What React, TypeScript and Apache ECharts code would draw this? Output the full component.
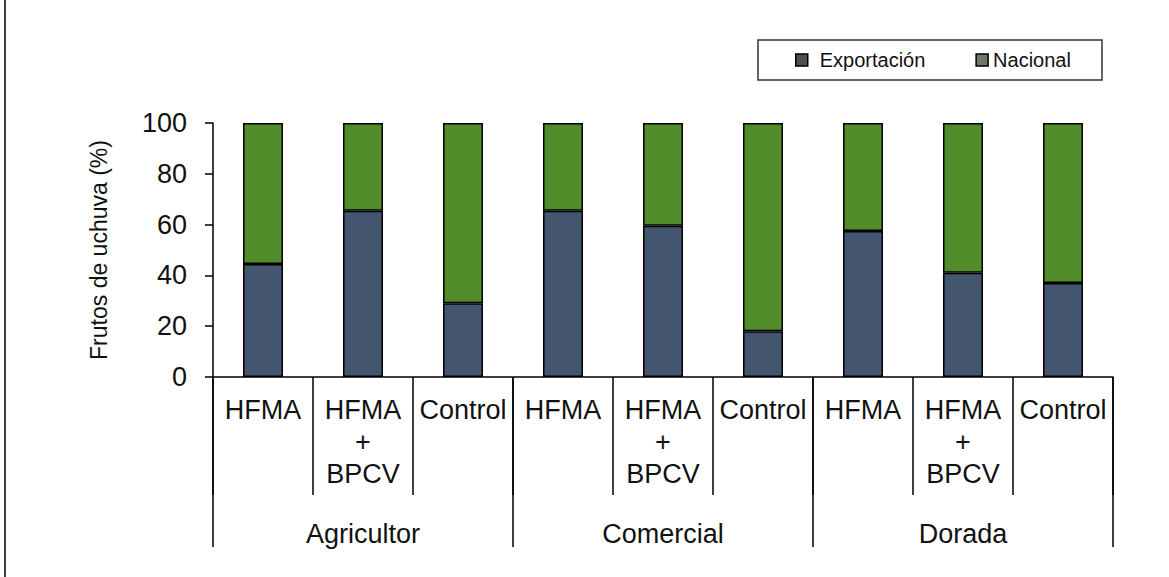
import React, { useEffect, useRef } from "react";
import * as echarts from "echarts";

const categories = [
  "HFMA", "HFMA\n+\nBPCV", "Control",
  "HFMA", "HFMA\n+\nBPCV", "Control",
  "HFMA", "HFMA\n+\nBPCV", "Control",
];
const groups = ["Agricultor", "Comercial", "Dorada"];
const exportacion = [44.5, 65.5, 29, 65.5, 59.5, 18, 57.5, 41, 37];
const nacional = [55.5, 34.5, 71, 34.5, 40.5, 82, 42.5, 59, 63];
const yTicks = { min: 0, max: 100, interval: 20 };

const FONT = "Liberation Sans, Arial, sans-serif";

export default function App() {
  const ref = useRef<HTMLDivElement>(null);
  useEffect(() => {
    if (!ref.current) return;
    const chart = echarts.init(ref.current, undefined, { renderer: "svg" });
    chart.setOption({
      animation: false,
      backgroundColor: "#ffffff",
      textStyle: { fontFamily: FONT, color: "#000" },
      grid: { left: 213, right: 56, top: 123, bottom: 200, containLabel: false },
      legend: {
        left: 795,
        top: 50,
        padding: 0,
        itemGap: 50,
        itemWidth: 12,
        itemHeight: 12,
        icon: "rect",
        textStyle: { fontSize: 20, fontFamily: FONT, color: "#111" },
        data: [
          { name: "Exportación", itemStyle: { color: "#4f4f4f", borderColor: "#000", borderWidth: 1.5 }, textStyle: { padding: [0, 0, 0, 7] } },
          { name: "Nacional", itemStyle: { color: "#6f7a66", borderColor: "#000", borderWidth: 1.5 } },
        ],
      },
      graphic: [
        { type: "rect", shape: { x: 758, y: 40, width: 344, height: 40 }, style: { fill: "none", stroke: "#333", lineWidth: 1.5 }, silent: true },
        { type: "line", shape: { x1: 5, y1: 0, x2: 5, y2: 577 }, style: { stroke: "#000", lineWidth: 1.5 }, silent: true },
      ],
      xAxis: [
        {
          type: "category",
          data: categories,
          position: "bottom",
          axisLine: { show: true, lineStyle: { color: "#000", width: 1.5 } },
          axisTick: { show: true, interval: 0, length: 118, alignWithLabel: false, lineStyle: { color: "#000", width: 1.5 } },
          axisLabel: { interval: 0, margin: 17, fontSize: 27, lineHeight: 32, color: "#111", fontFamily: FONT, verticalAlign: "top" },
        },
        {
          type: "category",
          data: groups,
          position: "bottom",
          offset: 0,
          axisLine: { show: false },
          axisTick: { show: true, interval: 0, length: 170, alignWithLabel: false, lineStyle: { color: "#000", width: 1.5 } },
          axisLabel: { interval: 0, margin: 141, fontSize: 27, lineHeight: 32, color: "#111", fontFamily: FONT, verticalAlign: "top" },
        },
      ],
      yAxis: {
        type: "value",
        min: yTicks.min,
        max: yTicks.max,
        interval: yTicks.interval,
        name: "Frutos de uchuva (%)",
        nameLocation: "middle",
        nameRotate: 90,
        nameGap: 103,
        nameTextStyle: { fontSize: 23, color: "#111", fontFamily: FONT },
        axisLine: { show: true, lineStyle: { color: "#000", width: 1.5 } },
        axisTick: { show: true, inside: false, length: 8, lineStyle: { color: "#000", width: 1.5 } },
        axisLabel: { fontSize: 27, margin: 26, color: "#111", fontFamily: FONT },
        splitLine: { show: false },
      },
      series: [
        {
          name: "Exportación",
          type: "bar",
          stack: "total",
          barWidth: 40,
          data: exportacion,
          itemStyle: { color: "#44556f", borderColor: "#000", borderWidth: 1.5 },
        },
        {
          name: "Nacional",
          type: "bar",
          stack: "total",
          barWidth: 40,
          data: nacional,
          itemStyle: { color: "#508c29", borderColor: "#000", borderWidth: 1.5 },
        },
      ],
    });
    return () => chart.dispose();
  }, []);
  return <div ref={ref} style={{ position: "absolute", left: 0, top: 0, width: 1169, height: 577 }} />;
}
